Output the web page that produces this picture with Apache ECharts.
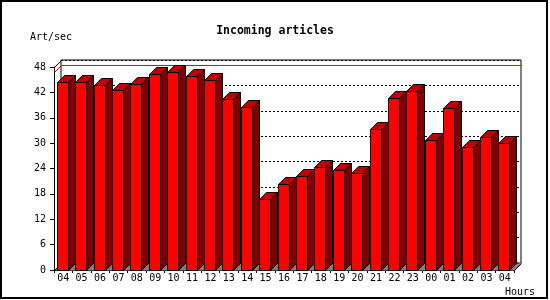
<!DOCTYPE html>
<html>
<head>
<meta charset="utf-8">
<script src="https://cdn.jsdelivr.net/npm/echarts@6/dist/echarts.min.js"></script>
<style>html,body{margin:0;padding:0;background:#fff}#c{width:550px;height:300px}</style>
</head>
<body>
<div id="c"></div>
<script>
const hours = ['04','05','06','07','08','09','10','11','12','13','14','15','16','17','18','19','20','21','22','23','00','01','02','03','04'];
const artPerSec = [44.4, 44.4, 43.7, 42.5, 43.9, 46.3, 46.7, 45.9, 44.9, 40.4, 38.5, 16.7, 20.3, 22.2, 24.3, 23.6, 22.9, 33.3, 40.6, 42.3, 30.7, 38.2, 29.2, 31.4, 30.0];
const yTicks = {min: 0, max: 48, interval: 6};
const titleText = 'Incoming articles';
const yName = 'Art/sec';
const xName = 'Hours';

const FONT = 'DejaVu Sans Mono';
const D = 7; // 3D depth in px
const maxVal = Math.max.apply(null, artPerSec);

function px(v){ return Math.round(v) + 0.5; }

const chart = echarts.init(document.getElementById('c'), null, {renderer: 'canvas'});
chart.setOption({
  animation: false,
  backgroundColor: '#fff',
  title: {
    text: titleText, left: 'center', top: 20,
    textStyle: {fontFamily: FONT, fontWeight: 'bold', fontSize: 11.5, color: '#000'}
  },
  graphic: [
    {type: 'rect', shape: {x: 1, y: 1, width: 546, height: 297}, style: {fill: 'none', stroke: '#000', lineWidth: 2}, z: 100},
    {type: 'text', x: 30, y: 37, style: {text: yName, font: '10px "DejaVu Sans Mono"', fill: '#000', verticalAlign: 'middle'}},
    {type: 'text', x: 505, y: 292, style: {text: xName, font: '10px "DejaVu Sans Mono"', fill: '#000', verticalAlign: 'middle'}}
  ],
  grid: [
    {left: 54, top: 67, width: 460, height: 203},
    {left: 61, top: 60, width: 460, height: 203, show: true, borderColor: '#000', borderWidth: 1, backgroundColor: '#fff'}
  ],
  xAxis: [
    {type: 'category', gridIndex: 0, data: hours,
     axisLine: {lineStyle: {color: '#000', width: 1}},
     axisTick: {show: true, length: 3, lineStyle: {color: '#000'}},
     axisLabel: {color: '#000', fontFamily: FONT, fontSize: 10, margin: 3, interval: 0}},
    {type: 'category', gridIndex: 1, data: hours, show: false}
  ],
  yAxis: [
    {type: 'value', gridIndex: 0, min: yTicks.min, max: yTicks.max, interval: yTicks.interval,
     axisLine: {show: true, lineStyle: {color: '#000', width: 1}},
     axisTick: {show: true, length: 4, lineStyle: {color: '#000'}},
     axisLabel: {color: '#000', fontFamily: FONT, fontSize: 10, margin: 8},
     splitLine: {show: false}},
    {type: 'value', gridIndex: 1, min: yTicks.min, max: yTicks.max, interval: yTicks.interval,
     axisLine: {show: false}, axisTick: {show: false}, axisLabel: {show: false},
     splitLine: {show: true, lineStyle: {color: '#000', width: 1, type: [2, 2]}}}
  ],
  series: [
    {
      type: 'custom', xAxisIndex: 0, yAxisIndex: 0, z: 1, silent: true,
      data: [[0, maxVal]],
      renderItem: function(params, api) {
        const cs = params.coordSys;
        const L = px(cs.x), R = px(cs.x + cs.width), T = px(cs.y), B = px(cs.y + cs.height);
        const ym = px(api.coord([0, api.value(1)])[1]);
        return {type: 'group', children: [
          {type: 'polygon', shape: {points: [[L, B], [L + D, B - D], [R + D, B - D], [R, B]]},
           style: {fill: '#808080'}},
          {type: 'polyline', shape: {points: [[L, ym], [L + D, ym - D], [R + D, ym - D]]},
           style: {stroke: '#ff0000', lineWidth: 1, fill: 'none'}},
          {type: 'line', shape: {x1: L, y1: T, x2: L + D, y2: T - D}, style: {stroke: '#000', lineWidth: 1}},
          {type: 'line', shape: {x1: L, y1: B, x2: L + D, y2: B - D}, style: {stroke: '#000', lineWidth: 1}},
          {type: 'line', shape: {x1: R, y1: B, x2: R + D, y2: B - D}, style: {stroke: '#000', lineWidth: 1}}
        ]};
      }
    },
    {
      type: 'custom', xAxisIndex: 0, yAxisIndex: 0, z: 3, silent: true,
      data: artPerSec.map(function(v, i){ return [i, v]; }),
      renderItem: function(params, api) {
        const c = api.coord([api.value(0), api.value(1)]);
        const b = api.coord([api.value(0), 0]);
        const x0 = px(c[0] - 6.5), x1 = x0 + 11;
        const top = px(c[1]), bot = px(b[1]);
        const st = {stroke: '#000', lineWidth: 1};
        return {type: 'group', children: [
          {type: 'polygon', shape: {points: [[x1, top], [x1 + D, top - D], [x1 + D, bot - D], [x1, bot]]},
           style: Object.assign({fill: '#800000'}, st)},
          {type: 'polygon', shape: {points: [[x0, top], [x0 + D, top - D], [x1 + D, top - D], [x1, top]]},
           style: Object.assign({fill: '#c00000'}, st)},
          {type: 'rect', shape: {x: x0, y: top, width: 11, height: bot - top},
           style: Object.assign({fill: '#ff0000'}, st)}
        ]};
      }
    }
  ]
});
</script>
</body>
</html>
